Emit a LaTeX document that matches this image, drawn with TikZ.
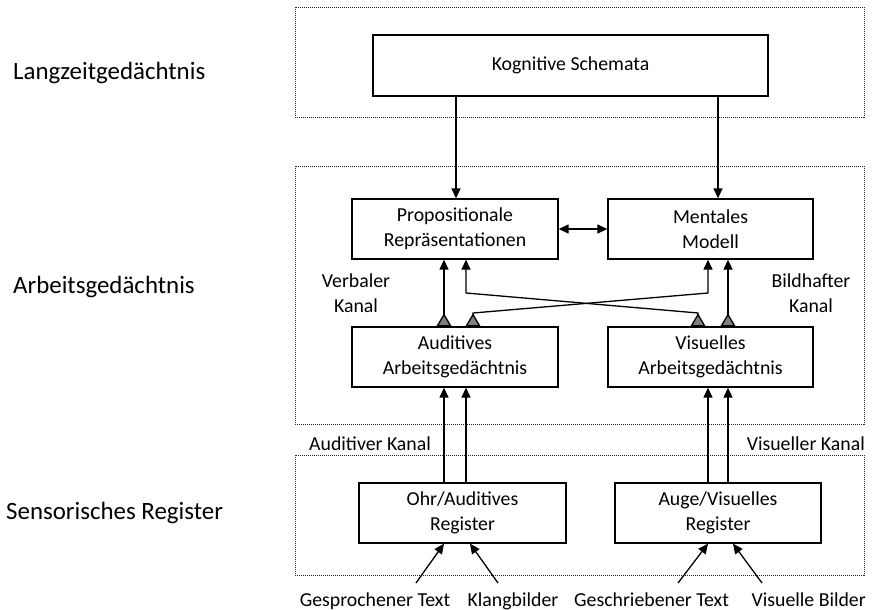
\documentclass[tikz,border=0pt]{standalone}
\usepackage{fontspec}
\setmainfont{Carlito}
\usetikzlibrary{arrows.meta}
\newcommand\boxfont{\fontsize{19.8}{25}\selectfont}
\newcommand\levelfont{\fontsize{24.9}{30}\selectfont}
\tikzset{
  btri/.tip={Triangle[width=9pt,length=10pt]},
  gtri/.tip={Triangle[reversed,width=15pt,length=13pt,fill=black!50]},
}
\begin{document}
\begin{tikzpicture}[x=1pt,y=-1pt,
  frame/.style={draw=black!85, line width=0.9pt, dash pattern=on 1pt off 1pt},
  box/.style={draw, line width=1.3pt, align=center, inner sep=0pt, font=\boxfont,
    minimum height=60pt},
  lbl/.style={inner sep=0pt, font=\boxfont, align=center},
  level/.style={inner sep=0pt, font=\levelfont, anchor=base west},
  arr/.style={line width=1.3pt, -btri},
  chan/.style={line width=1.3pt, gtri-btri},
  both/.style={line width=1.3pt, btri-btri},
]
\useasboundingbox (0,0) rectangle (875,610);

% memory levels
\draw[frame] (295,7) rectangle (864,117);
\draw[frame] (295,166) rectangle (864,424);
\draw[frame] (295,455) rectangle (864,575);

\node[level] (lzg) at (13,79) {Langzeitgedächtnis};
\node[level] (agd) at (13,293) {Arbeitsgedächtnis};
\node[level] (sreg) at (6,519) {Sensorisches Register};

% boxes
\node[box, minimum width=395pt, minimum height=61pt] (kog) at (570.5,65.5) {Kognitive Schemata};
\node[box, minimum width=206pt] (prop) at (455,229) {Propositionale\\Repräsentationen};
\node[box, minimum width=205pt] (ment) at (710.5,229) {Mentales\\Modell};
\node[box, minimum width=206pt] (aud) at (455,357) {Auditives\\Arbeitsgedächtnis};
\node[box, minimum width=205pt] (vis) at (710.5,357) {Visuelles\\Arbeitsgedächtnis};
\node[box, minimum width=207pt] (ohr) at (462.5,513) {Ohr/Auditives\\Register};
\node[box, minimum width=206pt] (auge) at (718,513) {Auge/Visuelles\\Register};

% channel labels
\node[lbl] (verb) at (356,293) {Verbaler\\Kanal};
\node[lbl] (bild) at (811,293) {Bildhafter\\Kanal};
\node[lbl, anchor=base west] (audk) at (309,450) {Auditiver Kanal};
\node[lbl, anchor=base east] (visk) at (865,450) {Visueller Kanal};

% inputs
\node[lbl, anchor=base] (gspr) at (375,606) {Gesprochener Text};
\node[lbl, anchor=base] (klang) at (513,606) {Klangbilder};
\node[lbl, anchor=base west] (gschr) at (574,606) {Geschriebener Text};
\node[lbl, anchor=base east] (vbild) at (866,606) {Visuelle Bilder};

% x positions of the vertical connectors
\coordinate (xk1) at (456,0);
\coordinate (xk2) at (718,0);
\coordinate (xa1) at (444,0);
\coordinate (xv2) at (728,0);
\coordinate (bendA1) at (698,313);
\coordinate (bendA2) at (466,293);
\coordinate (bendB1) at (473,313);
\coordinate (bendB2) at (708,293);

% long-term memory to working memory
\draw[arr] (kog.south -| xk1) -- (prop.north -| xk1);
\draw[arr] (kog.south -| xk2) -- (ment.north -| xk2);
\draw[both] (prop) -- (ment);

% working memory channels
\draw[chan] (aud.north -| xa1) -- (prop.south -| xa1);
\draw[chan] (vis.north -| xv2) -- (ment.south -| xv2);
\draw[chan] (aud.north -| bendB1) -- (bendB1) -- (bendB2) -- (ment.south -| bendB2);
\draw[chan] (vis.north -| bendA1) -- (bendA1) -- (bendA2) -- (prop.south -| bendA2);

% sensory register to working memory
\draw[arr] (ohr.north -| xa1) -- (aud.south -| xa1);
\draw[arr] (ohr.north -| bendA2) -- (aud.south -| bendA2);
\draw[arr] (auge.north -| bendB2) -- (vis.south -| bendB2);
\draw[arr] (auge.north -| xv2) -- (vis.south -| xv2);

% external inputs
\coordinate (in1) at (416,583);
\coordinate (in2) at (498,583);
\coordinate (in3) at (678,583);
\coordinate (in4) at (762,583);
\coordinate (xi2) at (470,0);
\coordinate (xi4) at (733,0);
\draw[arr] (in1) -- (ohr.south -| xa1);
\draw[arr] (in2) -- (ohr.south -| xi2);
\draw[arr] (in3) -- (auge.south -| bendB2);
\draw[arr] (in4) -- (auge.south -| xi4);
\end{tikzpicture}
\end{document}
